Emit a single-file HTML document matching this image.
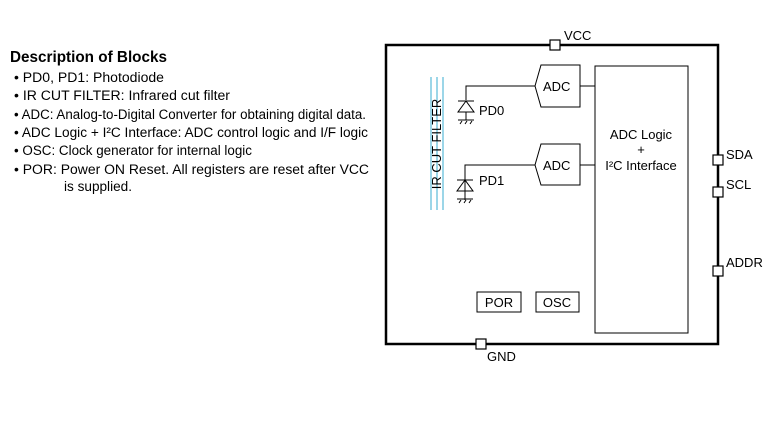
<!DOCTYPE html>
<html><head><meta charset="utf-8"><style>
html,body{margin:0;padding:0;background:#fff;}
svg{display:block;font-family:"Liberation Sans",Arial,sans-serif;}
</style></head><body>
<svg width="768" height="432" viewBox="0 0 768 432" xmlns="http://www.w3.org/2000/svg">
<g fill="#000">
<text x="10" y="62" font-size="15.5" font-weight="bold" textLength="157" lengthAdjust="spacingAndGlyphs">Description of Blocks</text>
<g font-size="13.5">
<text x="14" y="82" textLength="150" lengthAdjust="spacingAndGlyphs">• PD0, PD1: Photodiode</text>
<text x="14" y="100" textLength="216" lengthAdjust="spacingAndGlyphs">• IR CUT FILTER: Infrared cut filter</text>
<text x="14" y="119" textLength="352" lengthAdjust="spacingAndGlyphs">• ADC: Analog-to-Digital Converter for obtaining digital data.</text>
<text x="14" y="137" textLength="354" lengthAdjust="spacingAndGlyphs">• ADC Logic + I²C Interface: ADC control logic and I/F logic</text>
<text x="14" y="155" textLength="238" lengthAdjust="spacingAndGlyphs">• OSC: Clock generator for internal logic</text>
<text x="14" y="174" textLength="355" lengthAdjust="spacingAndGlyphs">• POR: Power ON Reset. All registers are reset after VCC</text>
<text x="64" y="191" textLength="68" lengthAdjust="spacingAndGlyphs">is supplied.</text>
</g>
</g>
<rect x="386" y="45" width="332" height="299" fill="none" stroke="#000" stroke-width="2.5"/>
<g fill="#fff" stroke="#000" stroke-width="1.2">
<rect x="550" y="40" width="10" height="10"/>
<rect x="476" y="339" width="10" height="10"/>
<rect x="713" y="155" width="10" height="10"/>
<rect x="713" y="187" width="10" height="10"/>
<rect x="713" y="266" width="10" height="10"/>
</g>
<g font-size="13" fill="#000">
<text x="564" y="40">VCC</text>
<text x="487" y="361">GND</text>
<text x="726" y="159">SDA</text>
<text x="726" y="189">SCL</text>
<text x="726" y="267">ADDR</text>
</g>
<rect x="595" y="66" width="93" height="267" fill="none" stroke="#000" stroke-width="1"/>
<g font-size="13" fill="#000" text-anchor="middle">
<text x="641" y="139">ADC Logic</text>
<text x="641" y="154">+</text>
<text x="641" y="170">I²C Interface</text>
</g>
<g fill="none" stroke="#000" stroke-width="1">
<path d="M541 65 H580 V107 H541 L535 86 Z"/>
<path d="M541 144 H580 V185 H541 L535 165 Z"/>
<path d="M580 86 H595 M580 165 H595"/>
<path d="M535 86 H466 V100 M535 165 H465 V200"/>
<path d="M458 101 H474 M466 101 L458 112 H474 Z M466 112 V120 M458 120 H474 M460 124 l2 -3 M465 124 l2 -3 M470 124 l2 -3"/>
<path d="M457 180 H473 M465 180 L457 191 H473 Z M465 191 V199 M457 199 H473 M459 203 l2 -3 M464 203 l2 -3 M469 203 l2 -3"/>
</g>
<g font-size="13" fill="#000">
<text x="543" y="91">ADC</text>
<text x="543" y="170">ADC</text>
<text x="479" y="115">PD0</text>
<text x="479" y="185">PD1</text>
</g>
<g stroke="#7cc8e0" stroke-width="1.5">
<line x1="431" y1="77" x2="431" y2="210"/>
<line x1="437" y1="77" x2="437" y2="210"/>
<line x1="443" y1="77" x2="443" y2="210"/>
</g>
<text x="0" y="0" font-size="13" fill="#000" text-anchor="middle" transform="translate(441,144) rotate(-90)">IR CUT FILTER</text>
<g fill="none" stroke="#000" stroke-width="1">
<rect x="477" y="292" width="44" height="20"/>
<rect x="536" y="292" width="43" height="20"/>
</g>
<g font-size="13" fill="#000" text-anchor="middle">
<text x="499" y="307">POR</text>
<text x="557" y="307">OSC</text>
</g>
</svg>
</body></html>
